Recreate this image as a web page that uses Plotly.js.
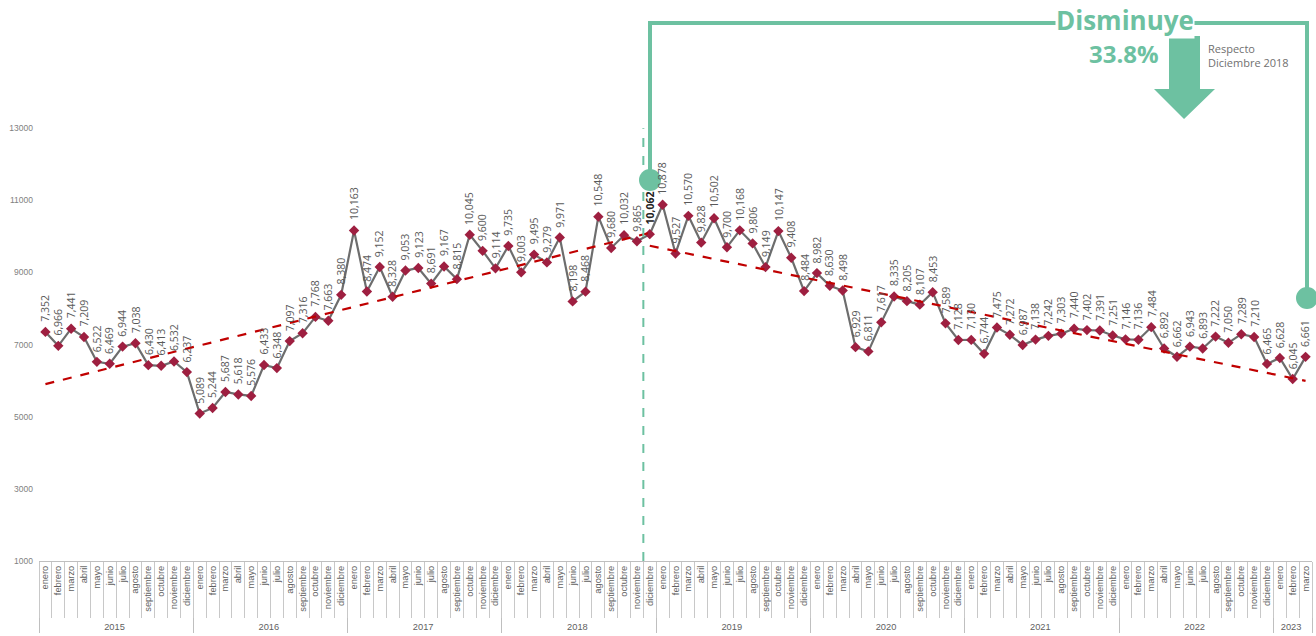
<!DOCTYPE html>
<html><head><meta charset="utf-8">
<script src="https://cdn.plot.ly/plotly-3.0.1.min.js"></script>
<style>html,body{margin:0;padding:0;background:#fff}#chart{width:1316px;height:636px}</style>
</head><body><div id="chart"></div>
<script>
// ---------- data ----------
const months = ['enero','febrero','marzo','abril','mayo','junio','julio','agosto','septiembre','octubre','noviembre','diciembre'];
const years = ['2015','2016','2017','2018','2019','2020','2021','2022','2023'];
const v2015 = [7352, 6966, 7441, 7209, 6522, 6469, 6944, 7038, 6430, 6413, 6532, 6237];
const v2016 = [5089, 5244, 5687, 5618, 5576, 6433, 6348, 7097, 7316, 7768, 7663, 8380];
const v2017 = [10163, 8474, 9152, 8328, 9053, 9123, 8691, 9167, 8815, 10045, 9600, 9114];
const v2018 = [9735, 9003, 9495, 9279, 9971, 8198, 8468, 10548, 9680, 10032, 9865, 10062];
const v2019 = [10878, 9527, 10570, 9828, 10502, 9700, 10168, 9806, 9149, 10147, 9408, 8484];
const v2020 = [8982, 8630, 8498, 6929, 6811, 7617, 8335, 8205, 8107, 8453, 7589, 7128];
const v2021 = [7130, 6744, 7475, 7272, 6987, 7138, 7242, 7303, 7440, 7402, 7391, 7251];
const v2022 = [7146, 7136, 7484, 6892, 6662, 6943, 6893, 7222, 7050, 7289, 7210, 6465];
const v2023 = [6628, 6045, 6661];
const yearValues = [v2015, v2016, v2017, v2018, v2019, v2020, v2021, v2022, v2023];

// trend lines (end points)
const trendUpX = [['2015', '2018'], ['enero', 'diciembre']];
const trendUpY = [5905, 10100];
const trendDownX = [['2018', '2023'], ['diciembre', 'marzo']];
const trendDownY = [9740, 5995];

const yTicks = [1000, 3000, 5000, 7000, 9000, 11000, 13000];
const highlightIndex = 47; // diciembre 2018

// ---------- build category table ----------
const xYear = [], xMonth = [], yVals = [];
yearValues.forEach((arr, yi) => arr.forEach((v, mi) => {
  xYear.push(years[yi]); xMonth.push(months[mi]); yVals.push(v);
}));
const n = yVals.length;
const boundaries = Array.from({length: n + 1}, (_, i) => i - 0.5);

const green = '#6dc1a1';
const fmt = v => v.toLocaleString('en-US');

const traces = [
  {type: 'scatter', mode: 'lines+markers', x: [xYear, xMonth], y: yVals,
   line: {color: '#6d6d6d', width: 2.2},
   marker: {symbol: 'diamond', size: 8, color: '#9e1f40'}},
  {type: 'scatter', mode: 'lines', x: trendUpX, y: trendUpY,
   line: {color: '#c00000', width: 2.2, dash: 'dash'}, hoverinfo: 'skip'},
  {type: 'scatter', mode: 'lines', x: trendDownX, y: trendDownY,
   line: {color: '#c00000', width: 2.2, dash: 'dash'}, hoverinfo: 'skip'},
  // helper trace for the month-separator axis
  {type: 'scatter', mode: 'markers', x: [boundaries[0], boundaries[n]], y: [null, null],
   xaxis: 'x2', yaxis: 'y', hoverinfo: 'skip', marker: {opacity: 0}}
];

// page geometry (px) -> paper
const L = 39, R = 4, T = 20, B = 75, W = 1316 - L - R, H = 636 - T - B;
const px = p => (p - L) / W;
const py = p => (636 - B - p) / H;

const annotations = yVals.map((v, i) => ({
  x: i, y: v, xref: 'x', yref: 'y', text: fmt(v), textangle: -90,
  showarrow: false, xanchor: 'center', yanchor: 'bottom', yshift: 8,
  font: {family: 'Open Sans', size: 10.5, color: i === highlightIndex ? '#222' : '#595959',
         weight: i === highlightIndex ? 700 : 400}
}));

annotations.push(
  {xref: 'paper', yref: 'paper', x: px(1125), y: py(20), text: 'Disminuye', showarrow: false,
   xanchor: 'center', yanchor: 'middle', bgcolor: '#ffffff', borderpad: 0,
   font: {family: 'Open Sans', size: 26, color: green, weight: 700}},
  {xref: 'paper', yref: 'paper', x: px(1124), y: py(53), text: '33.8%', showarrow: false,
   xanchor: 'center', yanchor: 'middle',
   font: {family: 'Open Sans', size: 24, color: green, weight: 700}},
  {xref: 'paper', yref: 'paper', x: px(1206), y: py(55), text: 'Respecto<br>Diciembre 2018', showarrow: false,
   xanchor: 'left', yanchor: 'middle', align: 'left',
   font: {family: 'Open Sans', size: 11, color: '#707070'}}
);

const arrowPts = [[1169,36],[1200,36],[1200,89],[1215,89],[1184,119],[1154,89],[1169,89]];
const arrowPath = 'M' + arrowPts.map(p => px(p[0]) + ',' + py(p[1])).join(' L') + ' Z';

const shapes = [
  {type: 'line', xref: 'x2', yref: 'y', x0: highlightIndex - 0.5, x1: highlightIndex - 0.5, y0: 1000, y1: 13000,
   line: {color: green, width: 2, dash: 'dash'}},
  {type: 'path', xref: 'paper', yref: 'paper', layer: 'below',
   path: `M${px(650)},${py(180)} L${px(650)},${py(23)} L${px(1307)},${py(23)} L${px(1307)},${py(298)}`,
   line: {color: green, width: 4}},
  {type: 'circle', xref: 'paper', yref: 'paper', xsizemode: 'pixel', ysizemode: 'pixel',
   xanchor: px(650), yanchor: py(180), x0: -11, x1: 11, y0: -11, y1: 11,
   fillcolor: green, line: {width: 0}},
  {type: 'circle', xref: 'paper', yref: 'paper', xsizemode: 'pixel', ysizemode: 'pixel',
   xanchor: px(1307), yanchor: py(298), x0: -11, x1: 11, y0: -11, y1: 11,
   fillcolor: green, line: {width: 0}},
  {type: 'path', xref: 'paper', yref: 'paper', path: arrowPath, fillcolor: green, line: {width: 0}}
];

const layout = {
  width: 1316, height: 636,
  margin: {l: L, r: R, t: T, b: B, autoexpand: false},
  paper_bgcolor: '#ffffff', plot_bgcolor: '#ffffff',
  showlegend: false,
  xaxis: {
    type: 'multicategory', tickangle: -90, tickson: 'boundaries',
    ticks: 'outside', ticklen: 3, tickcolor: '#bfbfbf', tickwidth: 1,
    showline: true, linecolor: '#bfbfbf', linewidth: 1,
    showdividers: true, dividercolor: '#bfbfbf', dividerwidth: 1,
    showgrid: false, zeroline: false, automargin: false,
    tickfont: {family: 'Liberation Sans', size: 9.3, color: '#5f5f5f'},
    range: [-0.5, n - 0.5]
  },
  xaxis2: {
    type: 'linear', overlaying: 'x', anchor: 'y', side: 'bottom',
    range: [-0.5, n - 0.5], tickvals: boundaries, showticklabels: false,
    ticks: 'outside', ticklen: 56, tickcolor: '#c8c8c8', tickwidth: 1,
    showgrid: false, zeroline: false, showline: false, automargin: false
  },
  yaxis: {
    range: [1000, 16000], tickvals: yTicks, ticktext: yTicks.map(String),
    showgrid: false, zeroline: false, showline: false, ticks: '', automargin: false,
    ticklabelstandoff: 5,
    tickfont: {family: 'Liberation Sans', size: 8.5, color: '#7f7f7f'}
  },
  annotations: annotations,
  shapes: shapes
};

Plotly.newPlot('chart', traces, layout, {displayModeBar: false, staticPlot: true});
</script>
</body></html>
